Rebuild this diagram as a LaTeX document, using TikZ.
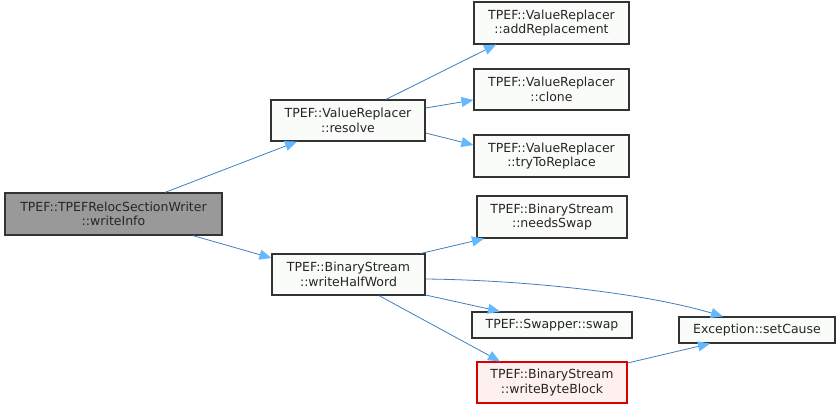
\documentclass[tikz,border=0pt]{standalone}
\usepackage{fontspec}
\setmainfont{DejaVu Sans}
\usetikzlibrary{arrows.meta}
\definecolor{edgeblue}{HTML}{3F7FC0}
\definecolor{tipblue}{HTML}{63B8FF}
\definecolor{boxline}{HTML}{333333}
\definecolor{greyfill}{HTML}{999999}
\definecolor{redfill}{HTML}{FFF0F0}
\definecolor{nodefill}{HTML}{FAFCF9}
\tikzset{
  fn/.style={draw=boxline, fill=nodefill, line width=1.2pt, inner sep=0pt, align=center,
    font=\fontsize{12.5}{14.5}\selectfont, text=black!85},
  call/.style={draw=edgeblue, line width=0.8pt, -{Triangle[length=12pt,width=10pt,color=tipblue,fill=tipblue]}}
}
\begin{document}
\begin{tikzpicture}[x=1pt,y=-1pt]
\useasboundingbox (0,0) rectangle (840,408);
\node[fn, fill=greyfill, minimum width=217pt, minimum height=42pt] (wi) at (113.5,214) {TPEF::TPEFRelocSectionWriter\\::writeInfo};
\node[fn, minimum width=154pt, minimum height=41pt] (res) at (348,120.5) {TPEF::ValueReplacer\\::resolve};
\node[fn, minimum width=155pt, minimum height=42pt] (add) at (551.5,23) {TPEF::ValueReplacer\\::addReplacement};
\node[fn, minimum width=155pt, minimum height=41pt] (clo) at (551.5,89.5) {TPEF::ValueReplacer\\::clone};
\node[fn, minimum width=155pt, minimum height=42pt] (try) at (551.5,156) {TPEF::ValueReplacer\\::tryToReplace};
\node[fn, minimum width=150pt, minimum height=42pt] (nee) at (552,217) {TPEF::BinaryStream\\::needsSwap};
\node[fn, minimum width=153pt, minimum height=41pt] (whw) at (348.5,274.5) {TPEF::BinaryStream\\::writeHalfWord};
\node[fn, minimum width=160pt, minimum height=26pt] (swp) at (552,325) {TPEF::Swapper::swap};
\node[fn, draw=red!85!black, fill=redfill, minimum width=150pt, minimum height=41pt] (wbb) at (552,382.5) {TPEF::BinaryStream\\::writeByteBlock};
\node[fn, minimum width=156pt, minimum height=26pt] (exc) at (757,330) {Exception::setCause};

\draw[call] (wi.north -| 165,0) -- (res.south -| 297,0);
\draw[call] (wi.south -| 193,0) -- (whw.west |- 0,258);
\draw[call] (res.north -| 386,0) -- (add.south -| 496,0);
\draw[call] (res.east |- 0,108) -- (clo.west |- 0,100);
\draw[call] (res.east |- 0,133) -- (try.west |- 0,145);
\draw[call] (whw.north -| 421,0) -- (nee.south -| 484,0);
\draw[call] (whw.east |- 0,279) .. controls (520,280) and (640,292) .. (exc.north -| 723,0);
\draw[call] (whw.east |- 0,295) -- (swp.north -| 500,0);
\draw[call] (whw.south -| 379,0) -- (wbb.north -| 500,0);
\draw[call] (wbb.east |- 0,363) -- (exc.south -| 710,0);
\end{tikzpicture}
\end{document}
